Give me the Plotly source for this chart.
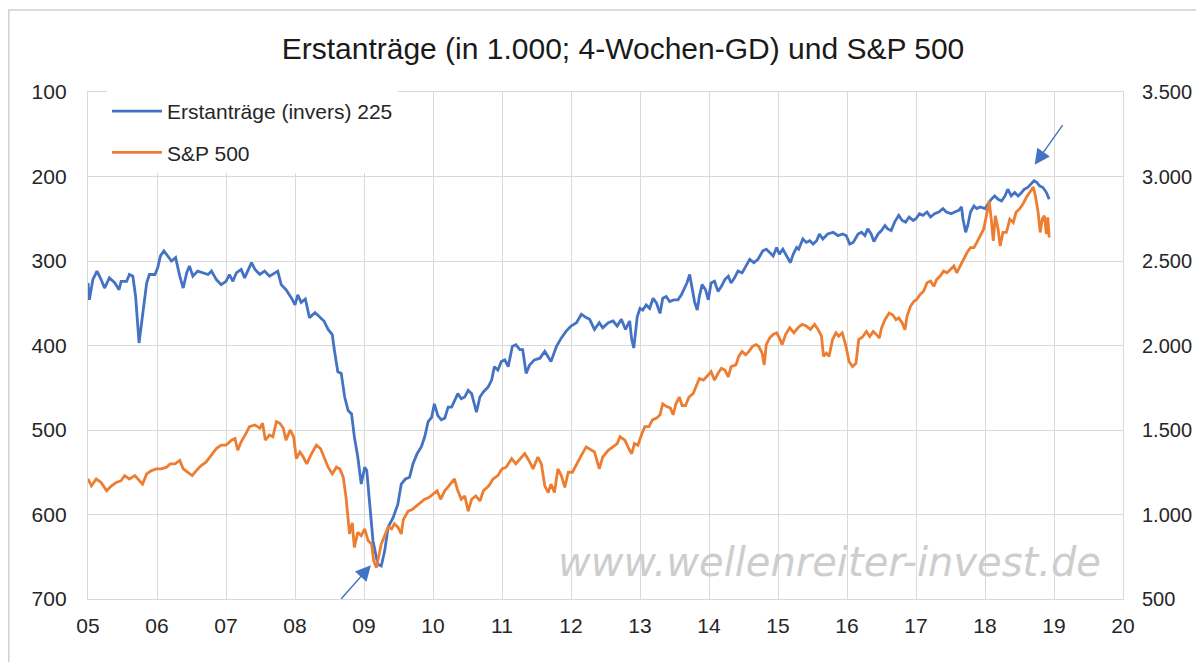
import plotly.graph_objects as go

# ---------------- data ----------------
claims_x = [2005.00, 2005.02, 2005.07, 2005.13, 2005.19, 2005.24, 2005.31, 2005.39, 2005.45, 2005.48,
            2005.56, 2005.60, 2005.65, 2005.69, 2005.74, 2005.79, 2005.85, 2005.89, 2005.97, 2006.01,
            2006.05, 2006.10, 2006.16, 2006.21, 2006.27, 2006.33, 2006.38, 2006.43, 2006.47, 2006.52,
            2006.59, 2006.67, 2006.74, 2006.79, 2006.86, 2006.93, 2007.00, 2007.05, 2007.10, 2007.15,
            2007.22, 2007.27, 2007.32, 2007.37, 2007.42, 2007.49, 2007.56, 2007.63, 2007.71, 2007.75,
            2007.80, 2007.87, 2007.95, 2008.00, 2008.04, 2008.09, 2008.15, 2008.21, 2008.29, 2008.36,
            2008.42, 2008.48, 2008.54, 2008.57, 2008.62, 2008.67, 2008.72, 2008.77, 2008.82, 2008.86,
            2008.91, 2008.96, 2009.01, 2009.04, 2009.09, 2009.13, 2009.20, 2009.25, 2009.30, 2009.35,
            2009.42, 2009.49, 2009.54, 2009.60, 2009.66, 2009.71, 2009.77, 2009.83, 2009.88, 2009.93,
            2009.98, 2010.02, 2010.07, 2010.12, 2010.17, 2010.22, 2010.27, 2010.31, 2010.36, 2010.41,
            2010.46, 2010.51, 2010.56, 2010.63, 2010.68, 2010.73, 2010.80, 2010.85, 2010.89, 2010.94,
            2010.99, 2011.04, 2011.09, 2011.15, 2011.20, 2011.26, 2011.30, 2011.35, 2011.40, 2011.47,
            2011.55, 2011.62, 2011.67, 2011.71, 2011.79, 2011.86, 2011.93, 2012.00, 2012.08, 2012.15,
            2012.22, 2012.27, 2012.34, 2012.41, 2012.46, 2012.54, 2012.61, 2012.67, 2012.73, 2012.79,
            2012.85, 2012.88, 2012.91, 2012.96, 2013.00, 2013.04, 2013.09, 2013.14, 2013.19, 2013.24,
            2013.29, 2013.33, 2013.38, 2013.43, 2013.49, 2013.55, 2013.60, 2013.65, 2013.68, 2013.72,
            2013.76, 2013.79, 2013.83, 2013.86, 2013.90, 2013.95, 2013.99, 2014.03, 2014.08, 2014.13,
            2014.18, 2014.23, 2014.28, 2014.32, 2014.37, 2014.42, 2014.48, 2014.54, 2014.59, 2014.65,
            2014.71, 2014.78, 2014.83, 2014.88, 2014.93, 2014.98, 2015.02, 2015.07, 2015.12, 2015.18,
            2015.22, 2015.27, 2015.30, 2015.36, 2015.41, 2015.46, 2015.51, 2015.56, 2015.60, 2015.65,
            2015.72, 2015.80, 2015.87, 2015.94, 2015.99, 2016.04, 2016.09, 2016.16, 2016.21, 2016.26,
            2016.30, 2016.35, 2016.39, 2016.45, 2016.50, 2016.55, 2016.59, 2016.64, 2016.69, 2016.75,
            2016.80, 2016.85, 2016.90, 2016.96, 2017.00, 2017.05, 2017.10, 2017.16, 2017.21, 2017.27,
            2017.33, 2017.39, 2017.44, 2017.51, 2017.56, 2017.62, 2017.66, 2017.68, 2017.72, 2017.75,
            2017.79, 2017.84, 2017.88, 2017.93, 2018.00, 2018.04, 2018.09, 2018.14, 2018.19, 2018.24,
            2018.29, 2018.33, 2018.38, 2018.43, 2018.48, 2018.53, 2018.57, 2018.62, 2018.67, 2018.71,
            2018.75, 2018.79, 2018.84, 2018.89, 2018.93]
claims_v = [326, 346, 322, 312, 322, 332, 320, 326, 334, 324,
            324, 316, 318, 342, 397, 365, 326, 316, 316, 308,
            294, 288, 294, 300, 296, 318, 332, 314, 306, 318,
            312, 314, 316, 312, 322, 328, 324, 316, 324, 314,
            310, 320, 310, 302, 310, 316, 312, 318, 314, 312,
            328, 334, 344, 352, 340, 349, 345, 367, 361, 367,
            371, 381, 387, 405, 431, 433, 461, 477, 481, 508,
            532, 564, 544, 548, 600, 631, 659, 661, 643, 615,
            604, 588, 564, 558, 556, 540, 528, 520, 508, 490,
            485, 469, 483, 488, 486, 473, 473, 465, 457, 463,
            461, 453, 457, 479, 461, 455, 449, 441, 425, 429,
            419, 417, 425, 401, 399, 405, 405, 433, 423, 417,
            415, 407, 413, 419, 401, 391, 383, 377, 373, 363,
            367, 369, 381, 373, 379, 373, 371, 377, 369, 381,
            371, 393, 403, 366, 356, 358, 352, 356, 344, 350,
            362, 344, 342, 348, 346, 346, 340, 332, 326, 316,
            332, 348, 358, 342, 328, 334, 346, 326, 324, 336,
            330, 322, 318, 326, 320, 312, 314, 306, 298, 302,
            298, 288, 286, 290, 294, 284, 292, 286, 294, 302,
            292, 284, 286, 274, 278, 276, 280, 276, 268, 274,
            268, 266, 270, 268, 270, 280, 278, 268, 266, 270,
            262, 268, 277, 268, 264, 258, 262, 264, 254, 246,
            252, 254, 248, 252, 250, 244, 246, 242, 248, 244,
            242, 238, 242, 244, 242, 240, 236, 250, 266, 258,
            242, 235, 238, 236, 238, 233, 227, 223, 227, 229,
            223, 215, 223, 219, 223, 219, 215, 213, 209, 205,
            207, 211, 213, 219, 227]

spx_x = [2005.00, 2005.05, 2005.12, 2005.19, 2005.27, 2005.34, 2005.41, 2005.48, 2005.53, 2005.60,
         2005.68, 2005.72, 2005.79, 2005.85, 2005.92, 2005.99, 2006.06, 2006.14, 2006.19, 2006.26,
         2006.33, 2006.38, 2006.45, 2006.51, 2006.57, 2006.64, 2006.71, 2006.79, 2006.86, 2006.93,
         2007.00, 2007.08, 2007.13, 2007.17, 2007.22, 2007.29, 2007.34, 2007.42, 2007.49, 2007.53,
         2007.57, 2007.63, 2007.68, 2007.73, 2007.78, 2007.83, 2007.87, 2007.93, 2007.98, 2008.02,
         2008.07, 2008.12, 2008.17, 2008.24, 2008.31, 2008.37, 2008.42, 2008.48, 2008.54, 2008.60,
         2008.65, 2008.70, 2008.74, 2008.77, 2008.79, 2008.83, 2008.86, 2008.91, 2008.96, 2009.01,
         2009.06, 2009.11, 2009.14, 2009.18, 2009.25, 2009.30, 2009.35, 2009.40, 2009.44, 2009.49,
         2009.54, 2009.57, 2009.64, 2009.70, 2009.76, 2009.82, 2009.88, 2009.94, 2010.00, 2010.06,
         2010.11, 2010.17, 2010.23, 2010.31, 2010.36, 2010.41, 2010.46, 2010.51, 2010.56, 2010.62,
         2010.68, 2010.73, 2010.81, 2010.87, 2010.94, 2011.00, 2011.06, 2011.14, 2011.20, 2011.26,
         2011.33, 2011.39, 2011.45, 2011.52, 2011.57, 2011.62, 2011.67, 2011.71, 2011.76, 2011.81,
         2011.86, 2011.91, 2011.96, 2012.02, 2012.08, 2012.15, 2012.22, 2012.29, 2012.34, 2012.41,
         2012.46, 2012.54, 2012.61, 2012.67, 2012.71, 2012.78, 2012.85, 2012.88, 2012.92, 2012.97,
         2013.02, 2013.07, 2013.13, 2013.18, 2013.24, 2013.29, 2013.33, 2013.38, 2013.44, 2013.48,
         2013.52, 2013.57, 2013.61, 2013.66, 2013.71, 2013.77, 2013.82, 2013.86, 2013.92, 2013.99,
         2014.03, 2014.08, 2014.13, 2014.18, 2014.23, 2014.28, 2014.32, 2014.39, 2014.43, 2014.48,
         2014.53, 2014.58, 2014.63, 2014.68, 2014.72, 2014.77, 2014.80, 2014.83, 2014.88, 2014.93,
         2014.98, 2015.02, 2015.06, 2015.11, 2015.17, 2015.23, 2015.29, 2015.35, 2015.41, 2015.47,
         2015.53, 2015.58, 2015.63, 2015.66, 2015.70, 2015.74, 2015.79, 2015.84, 2015.88, 2015.93,
         2015.98, 2016.03, 2016.08, 2016.13, 2016.17, 2016.23, 2016.28, 2016.33, 2016.38, 2016.43,
         2016.47, 2016.50, 2016.55, 2016.61, 2016.66, 2016.71, 2016.75, 2016.80, 2016.84, 2016.87,
         2016.92, 2016.97, 2017.01, 2017.06, 2017.11, 2017.16, 2017.21, 2017.26, 2017.30, 2017.35,
         2017.40, 2017.45, 2017.50, 2017.55, 2017.59, 2017.64, 2017.69, 2017.74, 2017.79, 2017.84,
         2017.88, 2017.93, 2017.98, 2018.02, 2018.06, 2018.09, 2018.12, 2018.15, 2018.19, 2018.22,
         2018.26, 2018.31, 2018.36, 2018.41, 2018.45, 2018.50, 2018.55, 2018.60, 2018.65, 2018.70,
         2018.73, 2018.77, 2018.80, 2018.83, 2018.86, 2018.89, 2018.91, 2018.93]
spx_v = [1210, 1170, 1210, 1190, 1140, 1170, 1190, 1200, 1230, 1210,
         1230, 1210, 1180, 1240, 1260, 1270, 1270, 1280, 1300, 1300,
         1320, 1270, 1250, 1230, 1260, 1290, 1310, 1350, 1390, 1410,
         1410, 1440, 1450, 1380, 1430, 1480, 1520, 1530, 1510, 1540,
         1440, 1470, 1460, 1550, 1540, 1510, 1440, 1500, 1460, 1330,
         1370, 1340, 1300, 1360, 1410, 1390, 1340, 1280, 1240, 1280,
         1270, 1220, 1100, 960, 885, 950, 805, 895, 875, 915,
         845, 825, 725, 685, 825, 875, 925, 915, 945, 925,
         885, 970, 1020, 1030, 1050, 1070, 1090, 1100, 1120, 1140,
         1090, 1140, 1170, 1210, 1140, 1090, 1110, 1020, 1090, 1110,
         1080, 1140, 1170, 1210, 1230, 1270, 1280, 1330, 1300, 1330,
         1360, 1320, 1270, 1340, 1300, 1170, 1130, 1180, 1130, 1270,
         1230, 1160, 1250, 1250, 1300, 1350, 1400, 1380, 1370, 1270,
         1340, 1380, 1400, 1420, 1460, 1440, 1380, 1360, 1420, 1410,
         1470, 1520, 1520, 1560, 1570, 1590, 1655, 1640, 1630, 1590,
         1655, 1695, 1645, 1645, 1695, 1715, 1765, 1805, 1795, 1825,
         1845, 1795, 1835, 1865, 1855, 1815, 1875, 1885, 1935, 1965,
         1945, 1965, 1995, 2005, 1995, 1955, 1885, 2005, 2045, 2065,
         2075, 2045, 2005, 2065, 2105, 2075, 2105, 2125, 2115, 2095,
         2125, 2095, 2055, 1935, 1955, 1935, 2035, 2075, 2055, 2075,
         2005, 1905, 1875, 1895, 2035, 2053, 2083, 2053, 2083, 2063,
         2044, 2103, 2153, 2192, 2182, 2153, 2163, 2133, 2093, 2173,
         2232, 2262, 2272, 2302, 2321, 2371, 2381, 2351, 2391, 2411,
         2440, 2430, 2450, 2470, 2430, 2470, 2510, 2550, 2579, 2579,
         2609, 2649, 2688, 2768, 2857, 2748, 2619, 2768, 2688, 2589,
         2669, 2669, 2748, 2728, 2788, 2808, 2837, 2877, 2907, 2937,
         2887, 2788, 2669, 2748, 2768, 2659, 2758, 2639]

year_ticks = [2005 + i for i in range(16)]
year_labels = ["05", "06", "07", "08", "09", "10", "11", "12", "13", "14",
               "15", "16", "17", "18", "19", "20"]
left_ticks = [100, 200, 300, 400, 500, 600, 700]
right_ticks = [500, 1000, 1500, 2000, 2500, 3000, 3500]
right_labels = ["500", "1.000", "1.500", "2.000", "2.500", "3.000", "3.500"]

BLUE = "#4472C4"
ORANGE = "#ED7D31"
GRID = "#d9d9d9"
FONT = "Liberation Sans, Arial, sans-serif"

# page body adds an 8px offset; positions below are screen pixels
OFF = 8
SL, SR, ST, SB = 88, 1123, 92, 599          # plot area on screen
W, H = 1204 - OFF, 662 - OFF
L, R, T, B = SL - OFF, SR - OFF, ST - OFF, SB - OFF


def px_x(p):
    return (p - SL) / (SR - SL)


def px_y(p):
    return (SB - p) / (SB - ST)


fig = go.Figure()
fig.add_trace(go.Scatter(x=claims_x, y=claims_v, mode="lines", name="Erstanträge (invers) 225",
                         line=dict(color=BLUE, width=2.8), legendgroup="a", yaxis="y"))
fig.add_trace(go.Scatter(x=spx_x, y=spx_v, mode="lines", name="S&P 500",
                         line=dict(color=ORANGE, width=2.8), legendgroup="b", yaxis="y2"))

fig.update_layout(
    width=W, height=H,
    margin=dict(l=L, r=W - R, t=T, b=H - B, autoexpand=False),
    paper_bgcolor="white", plot_bgcolor="white",
    font=dict(family=FONT, size=21, color="#404040"),
    title=dict(text="Erstanträge (in 1.000; 4-Wochen-GD) und S&P 500",
               font=dict(family=FONT, size=30, color="#1a1a1a"),
               x=px_x(623), xref="paper", xanchor="center",
               y=1 - (48 - OFF) / H, yref="container", yanchor="middle"),
    xaxis=dict(range=[2005, 2020], tickvals=year_ticks, ticktext=year_labels,
               showgrid=True, gridcolor=GRID, gridwidth=1.4,
               showline=True, linecolor=GRID, linewidth=1.4, mirror=True,
               ticks="", ticklabelstandoff=8, zeroline=False,
               tickfont=dict(size=21, color="#262626")),
    yaxis=dict(range=[700, 100], tickvals=left_ticks,
               showgrid=True, gridcolor=GRID, gridwidth=1.4,
               showline=True, linecolor=GRID, linewidth=1.4, mirror=True,
               ticks="", ticklabelstandoff=16, zeroline=False,
               tickfont=dict(size=21, color="#262626")),
    yaxis2=dict(range=[500, 3500], tickvals=right_ticks, ticktext=right_labels,
                overlaying="y", side="right", showgrid=False, zeroline=False,
                ticks="", ticklabelstandoff=18,
                tickfont=dict(size=20, color="#262626")),
    legend=dict(x=px_x(107), y=px_y(91), xanchor="left", yanchor="top",
                bgcolor="white", borderwidth=0, tracegroupgap=11,
                font=dict(size=21, color="#262626"), itemwidth=50),
    showlegend=True,
)

# outer chart frame (left/top edges visible, right/bottom run off the page)
fig.add_shape(type="rect", xref="paper", yref="paper",
              x0=px_x(OFF + 0.8), x1=px_x(1230), y0=px_y(700), y1=px_y(10),
              line=dict(color="#d0d0d0", width=1.5), fillcolor="rgba(0,0,0,0)", layer="below")

# watermark
fig.add_annotation(text="www.wellenreiter-invest.de", xref="paper", yref="paper",
                   x=px_x(829), y=px_y(562), xanchor="center", yanchor="middle", showarrow=False,
                   font=dict(family="DejaVu Sans, Verdana, sans-serif", size=40,
                             color="#cdcdcd", style="italic"))

# arrows
fig.add_annotation(x=2018.72, y=186, xref="x", yref="y", text="", showarrow=True,
                   ax=29, ay=-41, arrowhead=2, arrowsize=2.2, arrowwidth=1.4, arrowcolor=BLUE)
fig.add_annotation(x=2009.10, y=660, xref="x", yref="y", text="", showarrow=True,
                   ax=-31, ay=35, arrowhead=2, arrowsize=2.2, arrowwidth=1.4, arrowcolor=BLUE)

fig.write_html("out.html")
